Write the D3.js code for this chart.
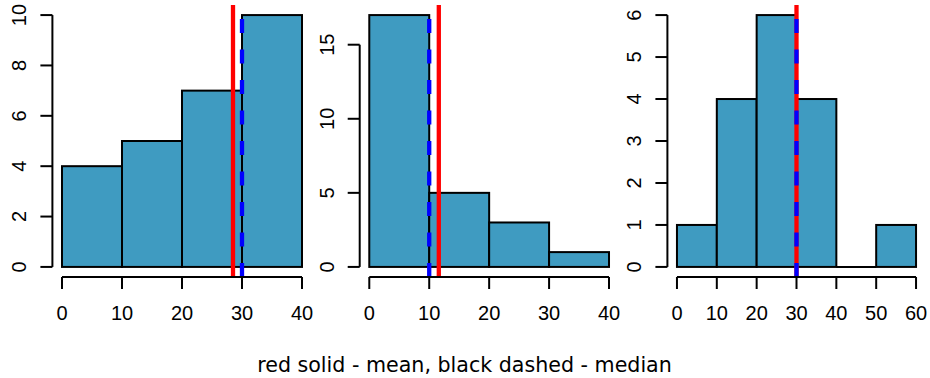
<!DOCTYPE html>
<html>
<head>
<meta charset="utf-8">
<script src="https://cdn.jsdelivr.net/npm/d3@7"></script>
<style>
  html, body { margin: 0; padding: 0; background: #fff; }
  svg { display: block; }
</style>
</head>
<body>
<svg id="chart" width="930" height="378"></svg>
<script>
// Histogram bins and counts for the three samples
const edgesA = [0, 10, 20, 30, 40];
const countsA = [4, 5, 7, 10];
const meanA = 28.5;
const medianA = 30;
const yTicksA = [0, 2, 4, 6, 8, 10];
const xTicksA = [0, 10, 20, 30, 40];

const edgesB = [0, 10, 20, 30, 40];
const countsB = [17, 5, 3, 1];
const meanB = 11.6;
const medianB = 10;
const yTicksB = [0, 5, 10, 15];
const xTicksB = [0, 10, 20, 30, 40];

const edgesC = [0, 10, 20, 30, 40, 50, 60];
const countsC = [1, 4, 6, 4, 0, 1];
const meanC = 30;
const medianC = 30;
const yTicksC = [0, 1, 2, 3, 4, 5, 6];
const xTicksC = [0, 10, 20, 30, 40, 50, 60];

const caption = "red solid - mean, black dashed - median";

const panels = [
  { edges: edgesA, counts: countsA, mean: meanA, median: medianA, yTicks: yTicksA, xTicks: xTicksA, left: 52.4, right: 311.6 },
  { edges: edgesB, counts: countsB, mean: meanB, median: medianB, yTicks: yTicksB, xTicks: xTicksB, left: 359.7, right: 618.6 },
  { edges: edgesC, counts: countsC, mean: meanC, median: medianC, yTicks: yTicksC, xTicks: xTicksC, left: 667.4, right: 925.6 }
];

const plotTop = 5, plotBottom = 277;
const barFill = "#3f9bc1";
const tickFont = "'Liberation Sans', Arial, sans-serif";
const tickSize = 20;
const tickLen = 12;

const svg = d3.select("#chart");

panels.forEach((p, i) => {
  const xmin = p.edges[0], xmax = p.edges[p.edges.length - 1];
  const xpad = (xmax - xmin) * 0.04;
  const ymax = d3.max(p.counts);
  const x = d3.scaleLinear().domain([xmin - xpad, xmax + xpad]).range([p.left, p.right]);
  const y = d3.scaleLinear().domain([-0.04 * ymax, 1.04 * ymax]).range([plotBottom, plotTop]);

  const g = svg.append("g");

  const clipId = "clip" + i;
  svg.append("clipPath").attr("id", clipId)
    .append("rect")
    .attr("x", p.left).attr("y", plotTop)
    .attr("width", p.right - p.left).attr("height", plotBottom - plotTop);

  // bars
  const bins = p.counts.map((c, k) => ({ x0: p.edges[k], x1: p.edges[k + 1], n: c }));
  g.selectAll("rect.bar").data(bins).join("rect")
    .attr("class", "bar")
    .attr("x", d => x(d.x0))
    .attr("y", d => y(d.n))
    .attr("width", d => x(d.x1) - x(d.x0))
    .attr("height", d => y(0) - y(d.n))
    .attr("fill", barFill)
    .attr("stroke", "#000")
    .attr("stroke-width", 2);
  // empty bins still show their baseline edge
  g.selectAll("line.empty").data(bins.filter(d => d.n === 0)).join("line")
    .attr("x1", d => x(d.x0)).attr("x2", d => x(d.x1))
    .attr("y1", y(0)).attr("y2", y(0))
    .attr("stroke", "#000").attr("stroke-width", 2);

  // mean and median reference lines
  const ref = g.append("g").attr("clip-path", `url(#${clipId})`);
  ref.append("line")
    .attr("x1", x(p.mean)).attr("x2", x(p.mean))
    .attr("y1", plotBottom).attr("y2", plotTop)
    .attr("stroke", "#ff0000").attr("stroke-width", 4.3);
  ref.append("line")
    .attr("x1", x(p.median)).attr("x2", x(p.median))
    .attr("y1", plotBottom).attr("y2", plotTop)
    .attr("stroke", "#0000ff").attr("stroke-width", 4.3)
    .attr("stroke-dasharray", "14,16.5");

  // x axis (line spans first to last tick, ticks point outward)
  const xa = g.append("g");
  xa.append("line")
    .attr("x1", x(p.xTicks[0])).attr("x2", x(p.xTicks[p.xTicks.length - 1]))
    .attr("y1", plotBottom).attr("y2", plotBottom)
    .attr("stroke", "#000").attr("stroke-width", 2);
  xa.selectAll("line.tick").data(p.xTicks).join("line")
    .attr("class", "tick")
    .attr("x1", d => x(d)).attr("x2", d => x(d))
    .attr("y1", plotBottom).attr("y2", plotBottom + tickLen)
    .attr("stroke", "#000").attr("stroke-width", 2);
  xa.selectAll("text").data(p.xTicks).join("text")
    .attr("x", d => x(d)).attr("y", 320)
    .attr("text-anchor", "middle")
    .attr("font-family", tickFont).attr("font-size", tickSize)
    .attr("fill", "#000")
    .text(d => d);

  // y axis
  const ya = g.append("g");
  const axX = p.left;
  ya.append("line")
    .attr("x1", axX).attr("x2", axX)
    .attr("y1", y(p.yTicks[0])).attr("y2", y(p.yTicks[p.yTicks.length - 1]))
    .attr("stroke", "#000").attr("stroke-width", 2);
  ya.selectAll("line.tick").data(p.yTicks).join("line")
    .attr("class", "tick")
    .attr("x1", axX).attr("x2", axX - tickLen)
    .attr("y1", d => y(d)).attr("y2", d => y(d))
    .attr("stroke", "#000").attr("stroke-width", 2);
  ya.selectAll("text").data(p.yTicks).join("text")
    .attr("transform", d => `translate(${axX - 26},${y(d)}) rotate(-90)`)
    .attr("text-anchor", "middle")
    .attr("font-family", tickFont).attr("font-size", tickSize)
    .attr("fill", "#000")
    .text(d => d);
});

// caption sized to span the same width as the figure's footnote
const cap = svg.append("text")
  .attr("x", 464.5).attr("y", 372)
  .attr("text-anchor", "middle")
  .attr("font-family", "'DejaVu Sans', sans-serif")
  .attr("font-size", 20)
  .attr("fill", "#000")
  .text(caption);
const w = cap.node().getComputedTextLength();
cap.attr("font-size", 20 * 415 / w);
</script>
</body>
</html>
